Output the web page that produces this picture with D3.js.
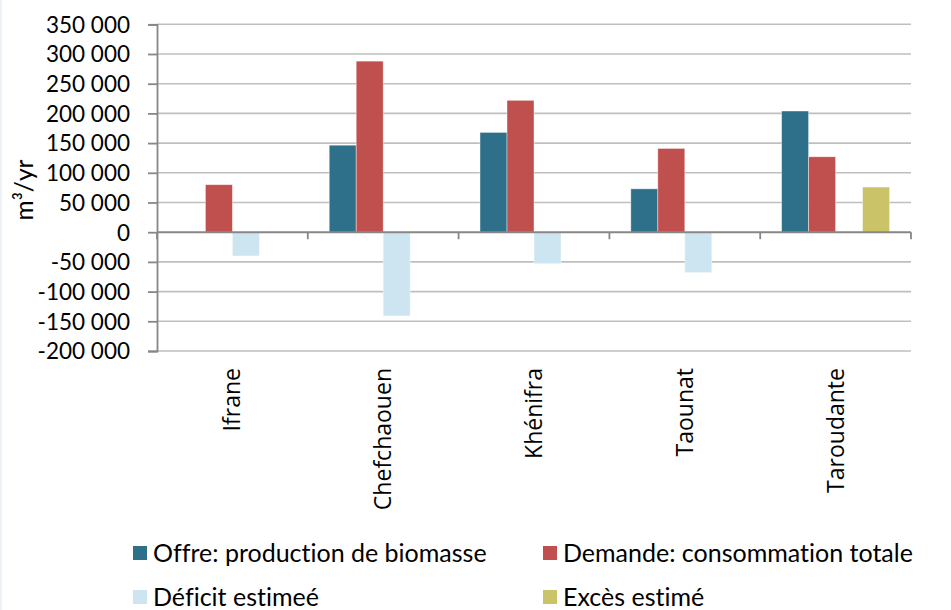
<!DOCTYPE html>
<html>
<head>
<meta charset="utf-8">
<script src="https://cdn.jsdelivr.net/npm/d3@7"></script>
<style>
  html, body { margin: 0; padding: 0; background: #ffffff; }
  svg { display: block; }
  text { font-variant-ligatures: none; font-feature-settings: "liga" 0, "clig" 0; }
</style>
</head>
<body>
<svg id="chart" width="951" height="610"></svg>
<script>
// ---- Data ----
const categories = ["Ifrane", "Chefchaouen", "Khénifra", "Taounat", "Taroudante"];
const seriesNames = ["Offre: production de biomasse", "Demande: consommation totale", "Déficit estimeé", "Excès estimé"];
const offre   = [0, 146500, 168000, 73000, 204000];
const demande = [80000, 288000, 222000, 141000, 127000];
const deficit = [-40000, -141000, -53000, -68000, 0];
const exces   = [0, 0, 0, 0, 76000];
const yTicks  = [-200000, -150000, -100000, -50000, 0, 50000, 100000, 150000, 200000, 250000, 300000, 350000];
const yTitle  = "m³/yr";

// ---- Setup ----
const colors = ["#2e7089", "#c0504d", "#cde5f0", "#cbc367"];
const seriesValues = [offre, demande, deficit, exces];

const svg = d3.select("#chart");
const W = 951, H = 610;
const plotL = 157, plotR = 911, plotT = 24.3, plotB = 351;

svg.append("rect").attr("x", 0).attr("y", 0).attr("width", W).attr("height", H).attr("fill", "#fff");
svg.append("rect").attr("x", 0).attr("y", 0).attr("width", 2).attr("height", H).attr("fill", "#eef3f8");

const y = d3.scaleLinear().domain([-200000, 350000]).range([plotB, plotT]);
const x0 = d3.scaleBand().domain(categories).range([plotL, plotR]).padding(0);
const bw = x0.bandwidth();
const x1 = d3.scaleBand().domain(seriesNames).range([bw * 0.142, bw * 0.858]).padding(0);

const loc = d3.formatLocale({ decimal: ",", thousands: " ", grouping: [3], currency: ["", ""], minus: "-" });
const fmt = loc.format(",d");

// gridlines
svg.append("g").selectAll("line").data(yTicks.filter(d => d !== 0)).join("line")
  .attr("x1", plotL).attr("x2", plotR)
  .attr("y1", d => y(d)).attr("y2", d => y(d))
  .attr("stroke", "#bfbfbf").attr("stroke-width", 1.6);

// bars
const rows = [];
categories.forEach((c, i) => {
  seriesNames.forEach((s, j) => {
    const v = seriesValues[j][i];
    if (v) rows.push({ c, s, v, j });
  });
});
svg.append("g").selectAll("rect").data(rows).join("rect")
  .attr("x", d => x0(d.c) + x1(d.s))
  .attr("width", x1.bandwidth())
  .attr("y", d => y(Math.max(0, d.v)))
  .attr("height", d => Math.abs(y(d.v) - y(0)))
  .attr("fill", d => colors[d.j])
  .attr("stroke", "#ffffff").attr("stroke-opacity", 0.5).attr("stroke-width", 0.8);

// y axis
const yAxis = svg.append("g").attr("transform", `translate(${plotL},0)`)
  .call(d3.axisLeft(y).tickValues(yTicks).tickFormat(fmt).tickSize(9).tickPadding(18));
yAxis.select(".domain").attr("stroke", "#878787").attr("stroke-width", 1.8);
yAxis.selectAll(".tick line").attr("stroke", "#878787").attr("stroke-width", 1.8);
yAxis.selectAll(".tick text")
  .attr("font-family", "Lato, 'Open Sans', sans-serif").attr("font-size", 22.5)
  .attr("fill", "#000").attr("dy", "0.35em");

// x axis at zero
const xAxis = svg.append("g").attr("transform", `translate(0,${y(0)})`);
xAxis.append("line").attr("x1", plotL).attr("x2", plotR).attr("y1", 0).attr("y2", 0)
  .attr("stroke", "#878787").attr("stroke-width", 2);
const boundaries = categories.map(c => x0(c)).concat([x0(categories[categories.length - 1]) + bw]);
xAxis.selectAll("line.tk").data(boundaries).join("line").attr("class", "tk")
  .attr("x1", d => d).attr("x2", d => d).attr("y1", 0).attr("y2", 7)
  .attr("stroke", "#878787").attr("stroke-width", 1.8);

// category labels
svg.append("g").selectAll("text").data(categories).join("text")
  .attr("transform", d => `translate(${x0(d) + bw / 2},368) rotate(-90)`)
  .attr("text-anchor", "end").attr("dy", "0.35em")
  .attr("font-family", "'Open Sans', sans-serif").attr("font-size", 23)
  .attr("fill", "#000").text(d => d);

// y title
svg.append("text")
  .attr("transform", "translate(24,190) rotate(-90)")
  .attr("text-anchor", "middle").attr("dy", "0.35em")
  .attr("font-family", "Lato, 'Open Sans', sans-serif").attr("font-size", 24.5)
  .attr("fill", "#000").text(yTitle);

// legend
const legPos = [[133, 553], [543, 553], [133, 597], [543, 597]];
const leg = svg.append("g").selectAll("g").data(seriesNames).join("g")
  .attr("transform", (d, i) => `translate(${legPos[i][0]},${legPos[i][1]})`);
leg.append("rect").attr("x", 0).attr("y", -7).attr("width", 14).attr("height", 14)
  .attr("fill", (d, i) => colors[i]);
leg.append("text").attr("x", 20).attr("dy", "0.35em")
  .attr("font-family", "Lato, 'Open Sans', sans-serif").attr("font-size", 25)
  .attr("fill", "#000").text(d => d);
</script>
</body>
</html>
